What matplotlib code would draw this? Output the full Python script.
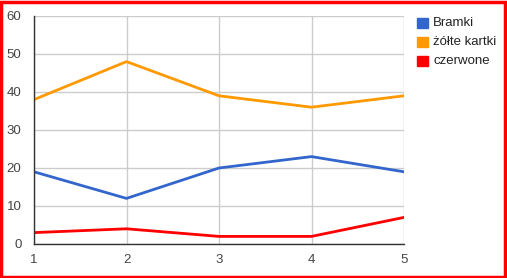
import matplotlib.pyplot as plt
from matplotlib.patches import Rectangle

x = [1, 2, 3, 4, 5]
bramki = [19, 12, 20, 23, 19]
zolte = [38, 48, 39, 36, 39]
czerwone = [3, 4, 2, 2, 7]

names = ['Bramki', 'żółte kartki', 'czerwone']
colors = ['#3366cc', '#ff9900', '#ff0000']
series = [bramki, zolte, czerwone]

plt.rcParams['font.family'] = ['Liberation Sans', 'DejaVu Sans']

W, H = 507, 278
fig = plt.figure(figsize=(W / 100, H / 100), dpi=100)
ax = fig.add_axes([34 / W, (H - 244) / H, 370 / W, 228 / H])

for vals, c in zip(series, colors):
    ax.plot(x, vals, color=c, lw=2, solid_joinstyle='round', zorder=3)

ax.set_xlim(1, 5)
ax.set_ylim(0, 60)
ax.set_xticks(x)
ax.set_yticks(range(0, 61, 10))
ax.grid(True, color='#cccccc', lw=1)
ax.set_axisbelow(True)
for s in ['top', 'right']:
    ax.spines[s].set_visible(False)
for s in ['left', 'bottom']:
    ax.spines[s].set_color('#333333')
    ax.spines[s].set_linewidth(1)
    ax.spines[s].set_zorder(4)
ax.tick_params(length=0, labelsize=9.5, colors='#444444')
ax.tick_params(axis='y', pad=9)
ax.tick_params(axis='x', pad=7)

# legenda
for i, (n, c) in enumerate(zip(names, colors)):
    y0 = 18 + i * 19
    fig.patches.append(Rectangle((417 / W, 1 - (y0 + 10) / H), 11 / W, 10 / H,
                                 transform=fig.transFigure, color=c))
    fig.text(433 / W, 1 - (y0 + 5) / H, n, fontsize=9.5, color='#222222',
             va='center', ha='left')

# czerwona ramka
fig.patches.append(Rectangle((1 / W, 1.5 / H), (W - 3.5) / W, (H - 3) / H,
                             transform=fig.transFigure, fill=False,
                             edgecolor='#ff0000', lw=2.5))

fig.savefig('out.png', dpi=100)
